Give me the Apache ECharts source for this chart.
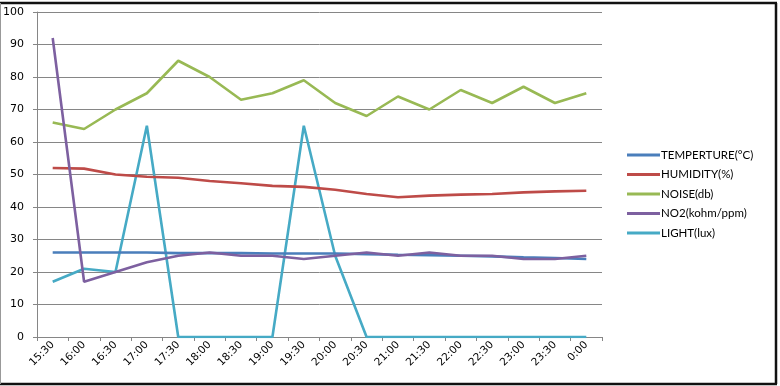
<!DOCTYPE html>
<html>
<head>
<meta charset="utf-8">
<script src="https://cdn.jsdelivr.net/npm/echarts@6/dist/echarts.min.js"></script>
<style>
  html, body { margin: 0; padding: 0; background: #fff; }
  #main { width: 780px; height: 386px; }
</style>
</head>
<body>
<div id="main"></div>
<script>
// time slots on the x axis
var times = ['15:30', '16:00', '16:30', '17:00', '17:30', '18:00', '18:30', '19:00', '19:30',
  '20:00', '20:30', '21:00', '21:30', '22:00', '22:30', '23:00', '23:30', '0:00'];

// sensor readings
var temperature = [26, 26, 26, 26, 25.8, 25.8, 25.8, 25.7, 25.7, 25.7, 25.5, 25.3, 25.2, 25, 24.8, 24.5, 24.3, 24];
var humidity = [52, 51.8, 50, 49.3, 49, 48, 47.3, 46.5, 46.2, 45.3, 44, 43, 43.5, 43.8, 44, 44.5, 44.8, 45];
var noise = [66, 64, 70, 75, 85, 80, 73, 75, 79, 72, 68, 74, 70, 76, 72, 77, 72, 75];
var no2 = [92, 17, 20, 23, 25, 26, 25, 25, 24, 25, 26, 25, 26, 25, 25, 24, 24, 25];
var light = [17, 21, 20, 65, 0, 0, 0, 0, 65, 25, 0, 0, 0, 0, 0, 0, 0, 0];

var names = ['TEMPERTURE(°C)', 'HUMIDITY(%)', 'NOISE(db)', 'NO2(kohm/ppm)', 'LIGHT(lux)'];
var colors = ['#4a7ebb', '#be4b48', '#98b954', '#7d60a0', '#46aac5'];

var chart = echarts.init(document.getElementById('main'));

function line(name, data, color, z) {
  return {
    name: name,
    type: 'line',
    data: data,
    z: z,
    symbol: 'none',
    lineStyle: {width: 2.6, color: color},
    itemStyle: {color: color}
  };
}

var option = {
  backgroundColor: '#fff',
  animation: false,
  textStyle: {fontFamily: 'DejaVu Sans'},
  grid: {left: 35, right: 178, top: 12, bottom: 49},
  legend: {
    orient: 'vertical',
    left: 622,
    top: 144,
    itemWidth: 33,
    itemHeight: 3,
    itemGap: 7.5,
    icon: 'rect',
    textStyle: {fontFamily: 'Lato', fontSize: 11.5, color: '#000', padding: [0, 0, 0, -4]},
    data: names
  },
  xAxis: {
    type: 'category',
    data: times,
    boundaryGap: true,
    axisLine: {lineStyle: {color: '#868686', width: 1}},
    axisTick: {show: true, length: 4, lineStyle: {color: '#868686'}},
    axisLabel: {rotate: 45, color: '#000', fontSize: 10.5, margin: 6, interval: 0}
  },
  yAxis: {
    type: 'value',
    min: 0,
    max: 100,
    interval: 10,
    axisLine: {show: true, lineStyle: {color: '#868686', width: 1}},
    axisTick: {show: true, length: 4, lineStyle: {color: '#868686'}},
    axisLabel: {color: '#000', fontSize: 11, margin: 13},
    splitLine: {lineStyle: {color: '#868686', width: 1}}
  },
  graphic: [
    {type: 'line', shape: {x1: 0, y1: 3, x2: 777, y2: 3}, style: {stroke: '#111', lineWidth: 2.5}},
    {type: 'line', shape: {x1: 776, y1: 3, x2: 776, y2: 384}, style: {stroke: '#111', lineWidth: 2.5}},
    {type: 'line', shape: {x1: 0, y1: 384, x2: 777, y2: 384}, style: {stroke: '#111', lineWidth: 2.5}},
    {type: 'line', shape: {x1: 0.5, y1: 3, x2: 0.5, y2: 384}, style: {stroke: '#999', lineWidth: 1}}
  ],
  series: [
    line(names[0], temperature, colors[0], 5),
    line(names[1], humidity, colors[1], 4),
    line(names[2], noise, colors[2], 3),
    line(names[3], no2, colors[3], 6),
    line(names[4], light, colors[4], 2)
  ]
};

chart.setOption(option);
</script>
</body>
</html>
